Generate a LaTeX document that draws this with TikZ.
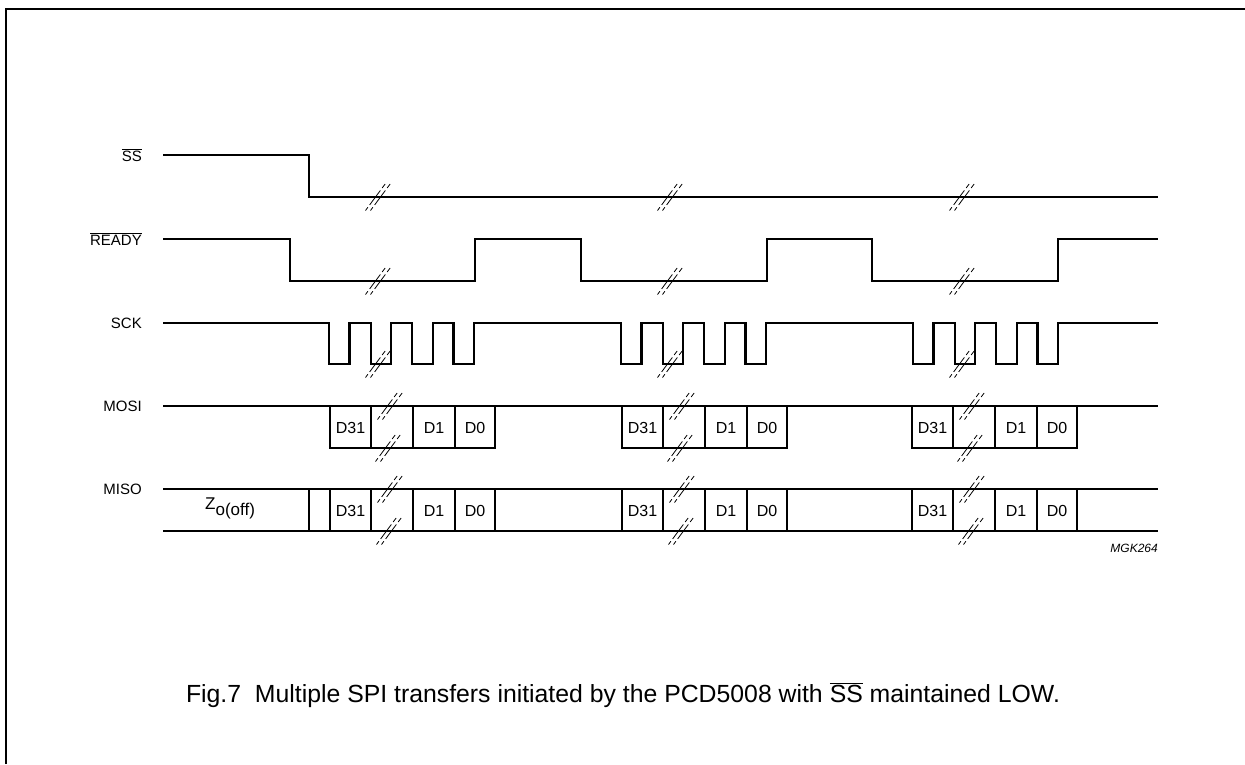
\documentclass[tikz,border=0pt]{standalone}
\usepackage{fontspec}
\setmainfont{Liberation Sans}
\begin{document}
\begin{tikzpicture}[x=1pt,y=-1pt,
  sig/.style={line width=2.3pt, line join=miter},
  framestyle/.style={line width=2pt},
  brkline/.style={line width=0.8pt, dash pattern=on 4pt off 3pt on 18pt off 3pt on 5pt},
  lab/.style={anchor=base east, font=\fontsize{15}{18}\selectfont, inner sep=0pt},
  dat/.style={anchor=base, font=\fontsize{16}{19}\selectfont, inner sep=0pt},
  refstyle/.style={anchor=base east, font=\fontsize{12}{14}\selectfont\itshape, inner sep=0pt},
  captionstyle/.style={anchor=base, font=\fontsize{24.8}{29}\selectfont, inner sep=0pt}]
\useasboundingbox (0,0) rectangle (1245,764);
\newcommand{\brkmark}[2]{%
  \draw[brkline] ({#1-12.5},{#2+13.5}) -- ({#1+7.5},{#2-13.5});
  \draw[brkline] ({#1-7.5},{#2+13.5}) -- ({#1+12.5},{#2-13.5});}
% frame
\coordinate (fBL) at (5.5,764);
\coordinate (fTL) at (5.5,8.5);
\coordinate (fTR) at (1245,8.5);
\draw[framestyle] (fBL) -- (fTL) -- (fTR);
% labels
\node[lab] (lss) at (142,161) {$\overline{\mbox{SS}}$};
\node[lab] (lrdy) at (142,245) {$\overline{\mbox{READY}}$};
\node[lab] (lsck) at (142,328) {SCK};
\node[lab] (lmosi) at (142,411.5) {MOSI};
\node[lab] (lmiso) at (142,494.5) {MISO};
% SS
\draw[sig] (163,155) -| (309,197) -- (1158,197);
% READY
\draw[sig] (163,239) -| (290,281) -| (475,239) -| (581,281) -| (767,239) -| (872,281) -| (1058,239) -- (1158,239);
% SCK
\draw[sig] (163,323)
  -| (329,364) -| (349.5,323) -| (371,364) -| (391,323) -| (412,364) -| (433,323) -| (453.5,364) -| (474,323)
  -| (621,364) -| (641.5,323) -| (663,364) -| (683,323) -| (704,364) -| (725,323) -| (745.5,364) -| (766,323)
  -| (913,364) -| (933.5,323) -| (955,364) -| (975,323) -| (996,364) -| (1017,323) -| (1037.5,364) -| (1058,323)
  -- (1158,323);
% MOSI / MISO lines
\draw[sig] (163,406) -- (1158,406);
\draw[sig] (163,489) -- (1158,489);
\draw[sig] (163,531) -- (1158,531);
\draw[sig] (309,489) -- (309,531);
\foreach \o in {0,292,582} {
  \draw[sig] ({330+\o},406) -- ({330+\o},448) -- ({495+\o},448) -- ({495+\o},406);
  \foreach \xx in {371,413,455} {
    \draw[sig] ({\xx+\o},406) -- ({\xx+\o},448);
    \draw[sig] ({\xx+\o},489) -- ({\xx+\o},531);
  }
  \draw[sig] ({330+\o},489) -- ({330+\o},531);
  \draw[sig] ({495+\o},489) -- ({495+\o},531);
  \node[dat] at ({350.5+\o},433) {D31};
  \node[dat] at ({434+\o},433) {D1};
  \node[dat] at ({475+\o},433) {D0};
  \node[dat] at ({350.5+\o},516) {D31};
  \node[dat] at ({434+\o},516) {D1};
  \node[dat] at ({475+\o},516) {D0};
}
\node[anchor=base west, font=\fontsize{17}{20}\selectfont, inner sep=0pt] (zo) at (205,509.5) {Z\raisebox{-5.5pt}{o(off)}};
% break marks
\foreach \o in {0,292,584} {
  \brkmark{378+\o}{197}
  \brkmark{378+\o}{281}
  \brkmark{378+\o}{364}
}
\foreach \o in {0,292,582} {
  \brkmark{390+\o}{406}
  \brkmark{388+\o}{448}
  \brkmark{390+\o}{489}
  \brkmark{389+\o}{531}
}
\node[refstyle] (mgk) at (1158,552) {MGK264};
\node[captionstyle] (caption) at (623,702) {Fig.7\ \ Multiple SPI transfers initiated by the PCD5008 with $\overline{\mbox{SS}}$ maintained LOW.};
\end{tikzpicture}
\end{document}
